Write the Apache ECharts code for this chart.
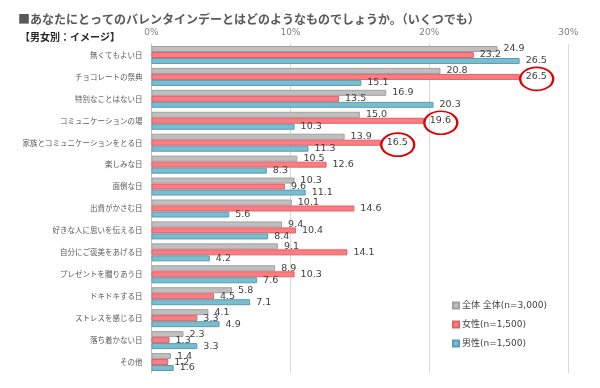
<!DOCTYPE html>
<html><head><meta charset="utf-8">
<script src="https://cdn.jsdelivr.net/npm/echarts@6/dist/echarts.min.js"></script>
<style>html,body{margin:0;padding:0;background:#fff}#c{width:600px;height:388px}</style>
</head><body><div id="c"></div>
<script>
const categories = ['無くてもよい日','チョコレートの祭典','特別なことはない日','コミュニケーションの場','家族とコミュニケーションをとる日','楽しみな日','面倒な日','出費がかさむ日','好きな人に思いを伝える日','自分にご褒美をあげる日','プレゼントを贈りあう日','ドキドキする日','ストレスを感じる日','落ち着かない日','その他'];
const allValues = [24.9,20.8,16.9,15.0,13.9,10.5,10.3,10.1,9.4,9.1,8.9,5.8,4.1,2.3,1.4];
const femaleValues = [23.2,26.5,13.5,19.6,16.5,12.6,9.6,14.6,10.4,14.1,10.3,4.5,3.3,1.3,1.2];
const maleValues = [26.5,15.1,20.3,10.3,11.3,8.3,11.1,5.6,8.4,4.2,7.6,7.1,4.9,3.3,1.6];
const seriesNames = ['全体 全体(n=3,000)','女性(n=1,500)','男性(n=1,500)'];
const circled = [1,3,4]; // indices of female values circled in red

const chart = echarts.init(document.getElementById('c'));
const numFont = '"DejaVu Sans","Noto Sans CJK JP",sans-serif';
const jpFont = '"Noto Sans CJK JP",sans-serif';
function lbl(){return {show:true,position:'right',distance:6,color:'#404040',fontSize:9.5,fontFamily:numFont,formatter:p=>p.value.toFixed(1)};}
chart.setOption({
  animation:false,
  title:[
    {text:'■あなたにとってのバレンタインデーとはどのようなものでしょうか。（いくつでも）',left:13,top:8,textStyle:{fontSize:12,fontWeight:'bold',color:'#595959',fontFamily:jpFont}},
    {text:'【男女別：イメージ】',left:15,top:27,textStyle:{fontSize:10,fontWeight:'bold',color:'#262626',fontFamily:jpFont}}
  ],
  legend:{orient:'vertical',left:447,top:296,itemWidth:6,itemHeight:6,itemGap:10,icon:'rect',
    textStyle:{fontSize:9,color:'#404040',fontFamily:numFont,padding:[0,0,0,-2]},data:seriesNames},
  grid:{left:151.5,right:31.7,top:44,bottom:15},
  xAxis:{type:'value',position:'top',min:0,max:30,interval:10,
    axisLabel:{formatter:'{value}%',color:'#7f7f7f',fontSize:9,fontFamily:numFont,margin:7},
    axisLine:{show:false},axisTick:{show:false},
    splitLine:{lineStyle:{color:'#d9d9d9',width:1}}},
  yAxis:{type:'category',inverse:true,data:categories,
    axisLine:{show:true,lineStyle:{color:'#bfbfbf'}},axisTick:{show:false},
    axisLabel:{color:'#595959',fontSize:7.5,fontFamily:jpFont,margin:9}},
  series:[
    {name:seriesNames[0],type:'bar',data:allValues,barGap:'0%',barCategoryGap:'18%',
      itemStyle:{color:'#bfbfbf',borderColor:'#a0a0a0',borderWidth:1},label:lbl()},
    {name:seriesNames[1],type:'bar',data:femaleValues,
      itemStyle:{color:'#ff7c80',borderColor:'#e0606a',borderWidth:1},label:lbl(),
      markPoint:{symbol:'circle',symbolSize:[33,23],symbolOffset:[17,2],silent:true,
        itemStyle:{color:'rgba(0,0,0,0)',borderColor:'#e00000',borderWidth:2},label:{show:false},
        data:circled.map(i=>({coord:[femaleValues[i],categories[i]]}))}},
    {name:seriesNames[2],type:'bar',data:maleValues,
      itemStyle:{color:'#7abdcf',borderColor:'#5a9db2',borderWidth:1},label:lbl()}
  ]
});
</script></body></html>
